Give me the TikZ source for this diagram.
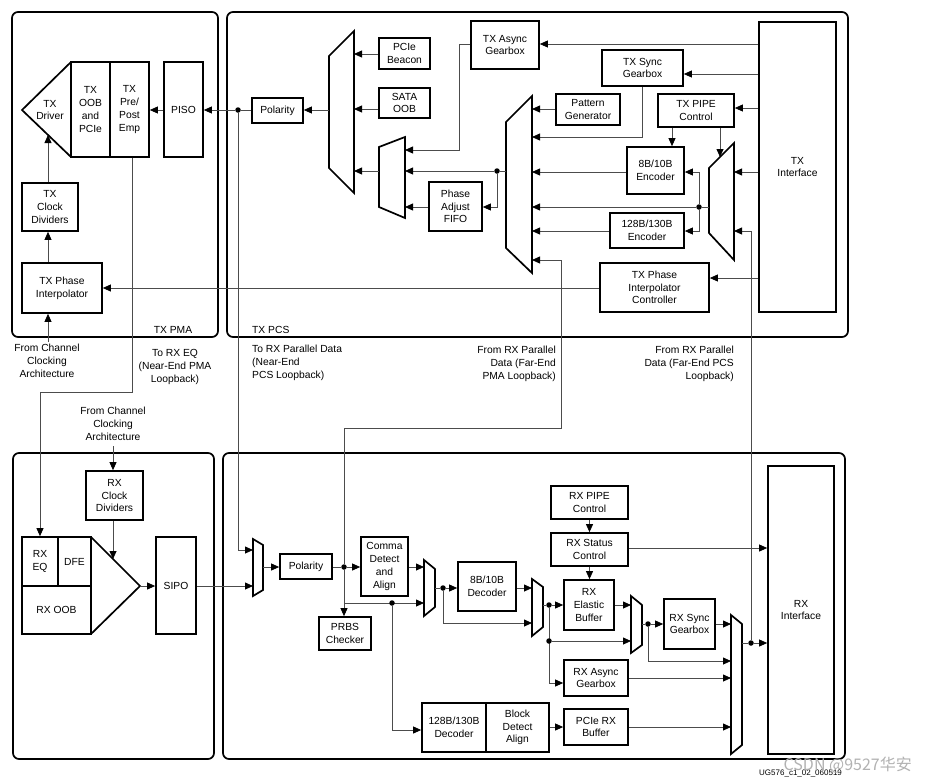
\documentclass[tikz,border=0pt]{standalone}
\usepackage{fontspec}
\setmainfont{Liberation Sans}
\newfontfamily\cjkf{Noto Sans CJK SC}
\usetikzlibrary{arrows.meta}
\newcommand\fs{\fontsize{10.3}{12.8}\selectfont}
\newcommand\bx[6]{\node[blk,minimum width={(#4)-(#2)},minimum height={(#5)-(#3)}] (#1) at ({((#2)+(#4))/2},{((#3)+(#5))/2}) {#6};}
\begin{document}
\begin{tikzpicture}[x=1pt,y=-1pt,
  blk/.style={draw,line width=1.7pt,inner sep=0pt,align=center,font=\fs},
  con/.style={line width=0.8pt,draw=black!70},
  arr/.style={con,-{Triangle[length=8pt,width=7pt,color=black]}},
  mux/.style={draw,line width=1.7pt,line join=miter},
  frame/.style={draw,line width=1.7pt,rounded corners=6pt},
  dot/.style={circle,fill=black,inner sep=0pt,minimum size=5.5pt},
  lab/.style={font=\fs,align=center,inner sep=0pt}]
\useasboundingbox (0,0) rectangle (926,782);
\fill[white] (0,0) rectangle (926,782);
% frames
\draw[frame] (12,12) rectangle (218,337);
\draw[frame] (227,12) rectangle (848,337);
\draw[frame] (13,453) rectangle (214,759);
\draw[frame] (223,453) rectangle (845,759);
\node[lab] (txpmal) at (173,330) {TX PMA};
\node[lab,anchor=west] (txpcsl) at (252,330) {TX PCS};

% ---------- TX PMA
\draw[mux] (71,62) -- (22,110) -- (71,157);
\node[lab] (txdrv) at (50,110) {TX\\Driver};
\bx{txoob}{71}{62}{110}{157}{TX\\OOB\\and\\PCIe}
\bx{txemp}{110}{62}{149}{157}{TX\\Pre/\\Post\\Emp}
\bx{piso}{164}{62}{203}{157}{PISO}
\bx{txclk}{22}{183}{78}{231}{TX\\Clock\\Dividers}
\bx{txpi}{22}{263}{102}{313}{TX Phase\\Interpolator}
\coordinate (drvin) at (48,135);
\coordinate (cca) at (48,342);
\draw[arr] (piso.west |- 0,110) -- (txemp.east |- 0,110);
\draw[arr] (txclk.north -| drvin) -- (drvin);
\draw[arr] (txpi.north -| drvin) -- (txclk.south -| drvin);
\draw[arr] (cca) -- (txpi.south -| cca);
\node[lab] (lcca) at (47,361) {From Channel\\Clocking\\Architecture};

% ---------- TX PCS
\bx{txif}{759}{22}{836}{312}{TX\\Interface}
\bx{async}{471}{21}{539}{69}{TX Async\\Gearbox}
\bx{sync}{602}{50}{683}{86}{TX Sync\\Gearbox}
\bx{patg}{556}{94}{620}{125}{Pattern\\Generator}
\bx{pipe}{658}{94}{734}{127}{TX PIPE\\Control}
\bx{enc8}{627}{147}{684}{194}{8B/10B\\Encoder}
\bx{enc128}{610}{213}{684}{248}{128B/130B\\Encoder}
\bx{txpic}{600}{263}{709}{312}{TX Phase\\Interpolator\\Controller}
\bx{pfifo}{429}{182}{482}{231}{Phase\\Adjust\\FIFO}
\bx{pcieb}{379}{38}{430}{69}{PCIe\\Beacon}
\bx{sata}{379}{88}{430}{118}{SATA\\OOB}
\bx{txpol}{252}{98}{303}{123}{Polarity}

\draw[mux] (329,56) -- (354,31) -- (354,193) -- (329,168) -- cycle;
\coordinate (m1L) at (329,110); \coordinate (m1R) at (354,110);
\draw[mux] (379,147) -- (405,137) -- (405,218) -- (379,207) -- cycle;
\coordinate (m2L) at (379,171); \coordinate (m2R) at (405,171);
\draw[mux] (506,122) -- (532,96) -- (532,273) -- (506,248) -- cycle;
\coordinate (m3L) at (506,171); \coordinate (m3R) at (532,171);
\draw[mux] (709,168) -- (734,143) -- (734,260) -- (709,233) -- cycle;
\coordinate (m4L) at (709,207); \coordinate (m4R) at (734,207);

\draw[arr] (txif.west |- 0,44) -- (async.east |- 0,44);
\draw[arr] (txif.west |- 0,74) -- (sync.east |- 0,74);
\draw[arr] (txif.west |- 0,108) -- (pipe.east |- 0,108);
\draw[arr] (txif.west |- 0,172) -- (m4R |- 0,172);
\draw[arr] (txif.west |- 0,278) -- (txpic.east |- 0,278);
\draw[arr] (sync.south) |- (m3R |- 0,137);
\draw[arr] (patg.west |- 0,109) -- (m3R |- 0,109);
\draw[arr] (pipe.south -| 672,0) -- (enc8.north -| 672,0);
\draw[arr] (pipe.south -| 720,0) -- (720,157);
\node[dot] (d4) at (699,207) {};
\draw[con] (m4L) -- (d4);
\draw[arr] (d4) -- (m3R |- d4);
\draw[arr] (d4) |- (enc8.east |- 0,172);
\draw[arr] (d4) |- (enc128.east |- 0,231);
\draw[arr] (enc8.west |- 0,172) -- (m3R |- 0,172);
\draw[arr] (enc128.west |- 0,231) -- (m3R |- 0,231);
\node[dot] (d3) at (497,171) {};
\draw[con] (m3L) -- (d3);
\draw[arr] (d3) -- (m2R);
\draw[arr] (d3) |- (pfifo.east |- 0,207);
\draw[arr] (pfifo.west |- 0,207) -- (m2R |- 0,207);
\draw[arr] (async.west |- 0,44) -| (459,150) -- (m2R |- 0,150);
\draw[arr] (m2L) -- (m1R |- m2L);
\draw[arr] (pcieb.west |- 0,54) -- (m1R |- 0,54);
\draw[arr] (sata.west |- 0,109) -- (m1R |- 0,109);
\draw[arr] (m1L) -- (txpol.east |- m1L);
\node[dot] (dp) at (238,110) {};
\draw[con] (txpol.west |- dp) -- (dp);
\draw[arr] (dp) -- (piso.east |- dp);
\draw[arr] (txpic.west |- 0,288) -- (txpi.east |- 0,288);

% ---------- labels between
\node[lab] (lnepma) at (175,367) {To RX EQ\\(Near-End PMA\\Loopback)};
\node[lab,align=left,anchor=west] (lnepcs) at (252,363) {To RX Parallel Data\\(Near-End\\PCS Loopback)};
\node[lab] (lccb) at (113,424) {From Channel\\Clocking\\Architecture};
\node[lab,align=right,anchor=east] (lfepma) at (556,364) {From RX Parallel\\Data (Far-End\\PMA Loopback)};
\node[lab,align=right,anchor=east] (lfepcs) at (734,364) {From RX Parallel\\Data (Far-End PCS\\Loopback)};

% ---------- RX PMA
\bx{rxclk}{86}{471}{143}{520}{RX\\Clock\\Dividers}
\bx{rxeq}{22}{537}{58}{586}{\fontsize{10.3}{9.5}\selectfont RX\\EQ}
\bx{dfe}{58}{537}{91}{586}{DFE}
\bx{rxoob}{22}{586}{91}{634}{RX OOB}
\draw[mux] (91,537) -- (140,586) -- (91,634);
\coordinate (rxtip) at (140,586);
\bx{sipo}{156}{537}{196}{634}{SIPO}
\coordinate (ccb) at (113,446);
\draw[arr] (rxtip) -- (sipo.west |- rxtip);
\draw[arr] (ccb) -- (rxclk.north -| ccb);
\draw[arr] (rxclk.south -| ccb) -- (113,559);
\draw[arr] (txemp.south -| 132,0) |- (40,392) -- (rxeq.north -| 40,0);

% ---------- RX PCS
\draw[mux] (253,539) -- (263,545) -- (263,590) -- (253,596) -- cycle;
\coordinate (r0w) at (253,567); \coordinate (r0e) at (263,567);
\draw[mux] (424,560) -- (435,569) -- (435,607) -- (424,616) -- cycle;
\coordinate (r1w) at (424,588); \coordinate (r1e) at (435,588);
\draw[mux] (532,579) -- (543,587) -- (543,627) -- (532,636) -- cycle;
\coordinate (r2w) at (532,605); \coordinate (r2e) at (543,605);
\draw[mux] (631,596) -- (642,605) -- (642,645) -- (631,653) -- cycle;
\coordinate (r3w) at (631,624); \coordinate (r3e) at (642,624);
\draw[mux] (731,615) -- (742,624) -- (742,745) -- (731,754) -- cycle;
\coordinate (r4w) at (731,643); \coordinate (r4e) at (742,643);

\bx{rxpol}{280}{554}{332}{579}{Polarity}
\bx{comma}{361}{537}{408}{596}{Comma\\Detect\\and\\Align}
\bx{prbs}{319}{617}{371}{650}{PRBS\\Checker}
\bx{dec8}{458}{562}{516}{611}{8B/10B\\Decoder}
\bx{dec128}{422}{703}{486}{752}{128B/130B\\Decoder}
\bx{bda}{486}{703}{549}{752}{Block\\Detect\\Align}
\bx{rxpipe}{551}{486}{628}{519}{RX PIPE\\Control}
\bx{rxstat}{551}{533}{628}{566}{RX Status\\Control}
\bx{ebuf}{564}{580}{614}{630}{RX\\Elastic\\Buffer}
\bx{rxasync}{564}{660}{628}{696}{RX Async\\Gearbox}
\bx{pcierx}{564}{709}{628}{745}{PCIe RX\\Buffer}
\bx{rxsync}{664}{599}{715}{649}{RX Sync\\Gearbox}
\bx{rxif}{768}{466}{834}{754}{RX\\Interface}

\draw[arr] (dp) |- (r0w |- 0,550);
\draw[arr] (sipo.east |- 0,586) -- (r0w |- 0,586);
\draw[arr] (r0e) -- (rxpol.west |- r0e);
\node[dot] (drp) at (344,567) {};
\draw[con] (rxpol.east |- drp) -- (drp);
\draw[arr] (drp) -- (comma.west |- drp);
\draw[arr] (drp) -- (prbs.north -| drp);
\draw[arr] (drp) |- (561,428) |- (m3R |- 0,260);
\draw[arr] (comma.east |- 0,567) -- (r1w |- 0,567);
\draw[arr] (drp |- 0,603) -- (r1w |- 0,603);
\node[dot] (d128) at (392,603) {};
\draw[arr] (d128) |- (dec128.west |- 0,730);
\draw[arr] (bda.east |- 0,727) -- (pcierx.west |- 0,727);
\node[dot] (d1) at (443,588) {};
\draw[con] (r1e) -- (d1);
\draw[arr] (d1) -- (dec8.west |- d1);
\draw[arr] (d1) |- (r2w |- 0,623);
\draw[arr] (dec8.east |- 0,588) -- (r2w |- 0,588);
\node[dot] (d2) at (549,605) {};
\draw[con] (r2e) -- (d2);
\draw[arr] (d2) -- (ebuf.west |- d2);
\draw[arr] (d2) |- (rxasync.west |- 0,683);
\node[dot] (d2b) at (549,641) {};
\draw[arr] (d2b) -- (r3w |- d2b);
\draw[arr] (ebuf.east |- 0,605) -- (r3w |- 0,605);
\node[dot] (d3r) at (648,624) {};
\draw[con] (r3e) -- (d3r);
\draw[arr] (d3r) -- (rxsync.west |- d3r);
\draw[arr] (d3r) |- (r4w |- 0,661);
\draw[arr] (rxsync.east |- 0,624) -- (r4w |- 0,624);
\draw[arr] (rxasync.east |- 0,678) -- (r4w |- 0,678);
\draw[arr] (pcierx.east |- 0,727) -- (r4w |- 0,727);
\node[dot] (d4r) at (751,643) {};
\draw[con] (r4e) -- (d4r);
\draw[arr] (d4r) -- (rxif.west |- d4r);
\draw[arr] (d4r) |- (m4R |- 0,231);
\draw[arr] (rxpipe.south) -- (rxstat.north);
\draw[arr] (rxstat.south) -- (rxstat.south |- ebuf.north);
\draw[arr] (rxstat.east |- 0,548) -- (rxif.west |- 0,548);

% footer
\node[font=\fontsize{8}{9}\selectfont,anchor=west,inner sep=0pt] (ug) at (759,773) {UG576\_c1\_02\_060519};
\node[font=\cjkf\fontsize{16}{17}\selectfont,text=black!30,anchor=east,inner sep=0pt] (wm) at (912,765) {CSDN @9527华安};
\end{tikzpicture}
\end{document}
